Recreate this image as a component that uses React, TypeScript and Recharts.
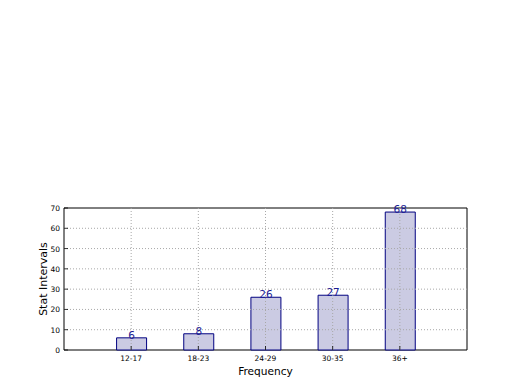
import React from "react";
import { BarChart, Bar, XAxis, YAxis, ReferenceLine, ReferenceArea, LabelList } from "recharts";

const categories = ["12-17", "18-23", "24-29", "30-35", "36+"];
const positions = [1, 2, 3, 4, 5];
const counts = [6, 8, 26, 27, 68];
const yTicks = [0, 10, 20, 30, 40, 50, 60, 70];

const data = categories.map((c, i) => ({ name: c, x: positions[i], value: counts[i] }));

const FONT = "DejaVu Sans, sans-serif";
const GRID = "#a8a8a8";

const LeftTick = (props: any) => {
  const { x, y, payload } = props;
  return (
    <g>
      <line x1={x} y1={y} x2={x + 4} y2={y} stroke="#000" strokeWidth={0.8} />
      <text x={x - 4} y={y} dy={3} textAnchor="end" fontSize={7.5} fontFamily={FONT} fill="#000">
        {payload.value}
      </text>
    </g>
  );
};

const RightTick = (props: any) => {
  const { x, y } = props;
  return <line x1={x} y1={y} x2={x - 4} y2={y} stroke="#000" strokeWidth={0.8} />;
};

const BottomTick = (props: any) => {
  const { x, y, payload } = props;
  const idx = positions.indexOf(payload.value);
  return (
    <g>
      <line x1={x} y1={y} x2={x} y2={y - 4} stroke="#000" strokeWidth={0.8} />
      <text x={x} y={y} dy={11} textAnchor="middle" fontSize={7.5} fontFamily={FONT} fill="#000">
        {idx >= 0 ? categories[idx] : ""}
      </text>
    </g>
  );
};

const TopTick = (props: any) => {
  const { x, y } = props;
  return <line x1={x} y1={y} x2={x} y2={y + 4} stroke="#000" strokeWidth={0.8} />;
};

const ValueLabel = (props: any) => {
  const { x, y, width, value } = props;
  return (
    <text x={x + width / 2} y={y} dy={1} textAnchor="middle" fontSize={10.5} fontFamily={FONT} fill="#1c1c94">
      {value}
    </text>
  );
};

export default function App() {
  return (
    <div style={{ position: "absolute", left: 0, top: 0, width: 520, height: 390, background: "#fff" }}>
      <BarChart
        width={520}
        height={390}
        data={data}
        margin={{ top: 208, right: 0, bottom: 0, left: 0 }}
      >
        <XAxis
          dataKey="x"
          type="number"
          domain={[0, 6]}
          ticks={positions}
          tickSize={0}
          tickMargin={0}
          axisLine={false}
          tickLine={false}
          height={40}
          tick={<BottomTick />}
          interval={0}
          label={{ value: "Frequency", position: "insideBottom", offset: 15, fontSize: 10.6, fontFamily: FONT, fill: "#000" }}
        />
        <XAxis
          xAxisId="top"
          orientation="top"
          type="number"
          domain={[0, 6]}
          ticks={positions}
          tickSize={0}
          tickMargin={0}
          axisLine={false}
          tickLine={false}
          height={0}
          tick={<TopTick />}
          interval={0}
        />
        <YAxis
          type="number"
          domain={[0, 70]}
          ticks={yTicks}
          tickSize={0}
          tickMargin={0}
          axisLine={false}
          tickLine={false}
          width={64}
          interval={0}
          tick={<LeftTick />}
          label={{ value: "Stat Intervals", angle: -90, position: "center", dx: 11, fontSize: 11, fontFamily: FONT, fill: "#000" }}
        />
        <YAxis
          yAxisId="right"
          orientation="right"
          type="number"
          domain={[0, 70]}
          ticks={yTicks}
          tickSize={0}
          tickMargin={0}
          axisLine={false}
          tickLine={false}
          width={53}
          interval={0}
          tick={<RightTick />}
        />
        <Bar
          dataKey="value"
          barSize={30}
          fill="#cbcbe3"
          stroke="#000080"
          strokeWidth={1}
          isAnimationActive={false}
        >
          <LabelList dataKey="value" content={<ValueLabel />} />
        </Bar>
        {positions.map((p) => (
          <ReferenceLine key={"v" + p} x={p} stroke={GRID} strokeDasharray="1 2" strokeWidth={1} />
        ))}
        {yTicks.slice(1, -1).map((t) => (
          <ReferenceLine key={"h" + t} y={t} stroke={GRID} strokeDasharray="1 2" strokeWidth={1} />
        ))}
        <ReferenceArea x1={0} x2={6} y1={0} y2={70} fill="none" stroke="#000" strokeWidth={1} />
      </BarChart>
    </div>
  );
}
